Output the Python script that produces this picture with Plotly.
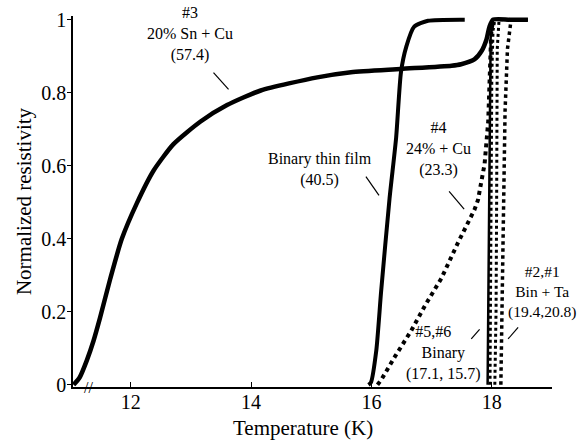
import plotly.graph_objects as go

# ---- data ----
t_sn3 = [11.05, 11.15, 11.27, 11.38, 11.49, 11.66, 11.85, 12.10, 12.38, 12.71, 13.16, 13.60, 14.16,
         15.10, 15.66, 16.49, 17.33, 17.49, 17.71, 17.83, 17.91, 17.96, 18.02, 18.30, 18.60]
r_sn3 = [0.0, 0.02, 0.067, 0.12, 0.184, 0.291, 0.399, 0.497, 0.587, 0.659, 0.721, 0.766, 0.806,
         0.842, 0.856, 0.865, 0.874, 0.878, 0.891, 0.914, 0.945, 0.98, 1.0, 1.0, 1.0]

t_film = [15.95, 15.99, 16.08, 16.16, 16.30, 16.41, 16.49, 16.58, 16.71, 16.94, 17.55]
r_film = [0.0, 0.006, 0.094, 0.255, 0.51, 0.677, 0.856, 0.927, 0.981, 0.997, 1.0]

t_cu4 = [16.10, 16.16, 16.40, 16.66, 16.90, 17.16, 17.44, 17.71, 17.77, 17.88, 17.94, 17.96, 17.99, 18.02]
r_cu4 = [0.0, 0.013, 0.08, 0.148, 0.22, 0.291, 0.390, 0.479, 0.506, 0.605, 0.721, 0.856, 0.963, 1.0]

t_bin5 = [17.93, 17.94, 17.95, 17.96, 17.98, 18.02, 18.30, 18.60]
r_bin5 = [0.0, 0.2, 0.5, 0.8, 0.95, 1.0, 1.0, 1.0]

t_bin6 = [17.97, 17.98, 17.99, 18.00, 18.02, 18.05]
r_bin6 = [0.0, 0.3, 0.6, 0.85, 0.97, 1.0]

t_ta2 = [18.05, 18.07, 18.08, 18.08, 18.09, 18.12, 18.40]
r_ta2 = [0.0, 0.2, 0.5, 0.75, 0.92, 1.0, 1.0]

t_ta1 = [18.15, 18.17, 18.20, 18.22, 18.26, 18.32, 18.60]
r_ta1 = [0.0, 0.2, 0.5, 0.75, 0.92, 1.0, 1.0]

x_ticks = [12, 14, 16, 18]
y_ticks = [0, 0.2, 0.4, 0.6, 0.8, 1.0]
y_tick_text = ["0", "0.2", "0.4", "0.6", "0.8", "1"]

FONT = "Liberation Serif"

fig = go.Figure()

def add(t, r, width, dash="solid", shape="linear"):
    fig.add_trace(go.Scatter(x=t, y=r, mode="lines",
                             line=dict(color="black", width=width, dash=dash, shape=shape, smoothing=0.6),
                             showlegend=False, hoverinfo="skip"))

add(t_sn3, r_sn3, 4.5, shape="spline")
add(t_film, r_film, 4, shape="spline")
add(t_cu4, r_cu4, 4, dash="dot")
add(t_bin5, r_bin5, 2.5)
add(t_bin6, r_bin6, 3, dash="dot")
add(t_ta2, r_ta2, 3, dash="dot")
add(t_ta1, r_ta1, 3.5, dash="dot")

# labels
labels = [
    (12.99, 0.960, "#3<br>20% Sn + Cu<br>(57.4)", "center", 16),
    (15.14, 0.590, "Binary thin film<br>(40.5)", "center", 16),
    (17.11, 0.645, "#4<br>24% + Cu<br>(23.3)", "center", 16),
    (17.19, 0.086, "#5,#6     <br>Binary<br>(17.1, 15.7)", "center", 16),
]
for x, y, txt, anc, size in labels:
    fig.add_annotation(x=x, y=y, xref="x", yref="y", text=txt, showarrow=False, xanchor=anc,
                       font=dict(family=FONT, size=size, color="black"), align="center")

fig.add_annotation(x=1.0, y=0.253, xref="paper", yref="y", xshift=26, xanchor="right",
                   text="#2,#1<br>Bin + Ta<br>(19.4,20.8)", showarrow=False,
                   font=dict(family=FONT, size=15.5, color="black"), align="center")

# leader lines
leaders = [
    (13.375, 0.855, 13.625, 0.809),
    (15.908, 0.570, 16.125, 0.519),
    (17.29, 0.530, 17.54, 0.481),
    (17.658, 0.1255, 17.797, 0.152),
    (18.27, 0.1255, 18.437, 0.157),
]
for x0, y0, x1, y1 in leaders:
    fig.add_shape(type="line", x0=x0, y0=y0, x1=x1, y1=y1, xref="x", yref="y",
                  line=dict(color="black", width=1.2))

# axis break mark
fig.add_annotation(x=11.29, y=-0.006, xref="x", yref="y", text="//", showarrow=False,
                   font=dict(family=FONT, size=16, color="black"))

# x axis title (offset left of centre, as in the reference)
fig.add_annotation(x=14.86, y=0, xref="x", yref="paper", yshift=-41, yanchor="middle",
                   text="Temperature (K)", showarrow=False,
                   font=dict(family=FONT, size=21, color="black"))

fig.update_layout(
    width=580, height=444,
    margin=dict(l=73, r=28, t=9, b=57),
    paper_bgcolor="white", plot_bgcolor="white",
    font=dict(family=FONT, color="black"),
    xaxis=dict(range=[11.04, 19.0], tickvals=x_ticks, ticks="inside", ticklen=5, tickwidth=1,
               tickcolor="black", showline=True, linecolor="black", linewidth=1.5,
               showgrid=False, zeroline=False, ticklabelstandoff=-4,
               tickfont=dict(family=FONT, size=20, color="black")),
    yaxis=dict(range=[-0.006, 1.01], tickvals=y_ticks, ticktext=y_tick_text, ticks="outside",
               ticklen=4, tickwidth=1, tickcolor="black", showline=True, linecolor="black",
               linewidth=1.5, showgrid=False, zeroline=False, ticklabelstandoff=-3,
               tickfont=dict(family=FONT, size=20, color="black"),
               title=dict(text="Normalized resistivity", font=dict(family=FONT, size=21, color="black"), standoff=4)),
)

fig.write_html("out.html")
